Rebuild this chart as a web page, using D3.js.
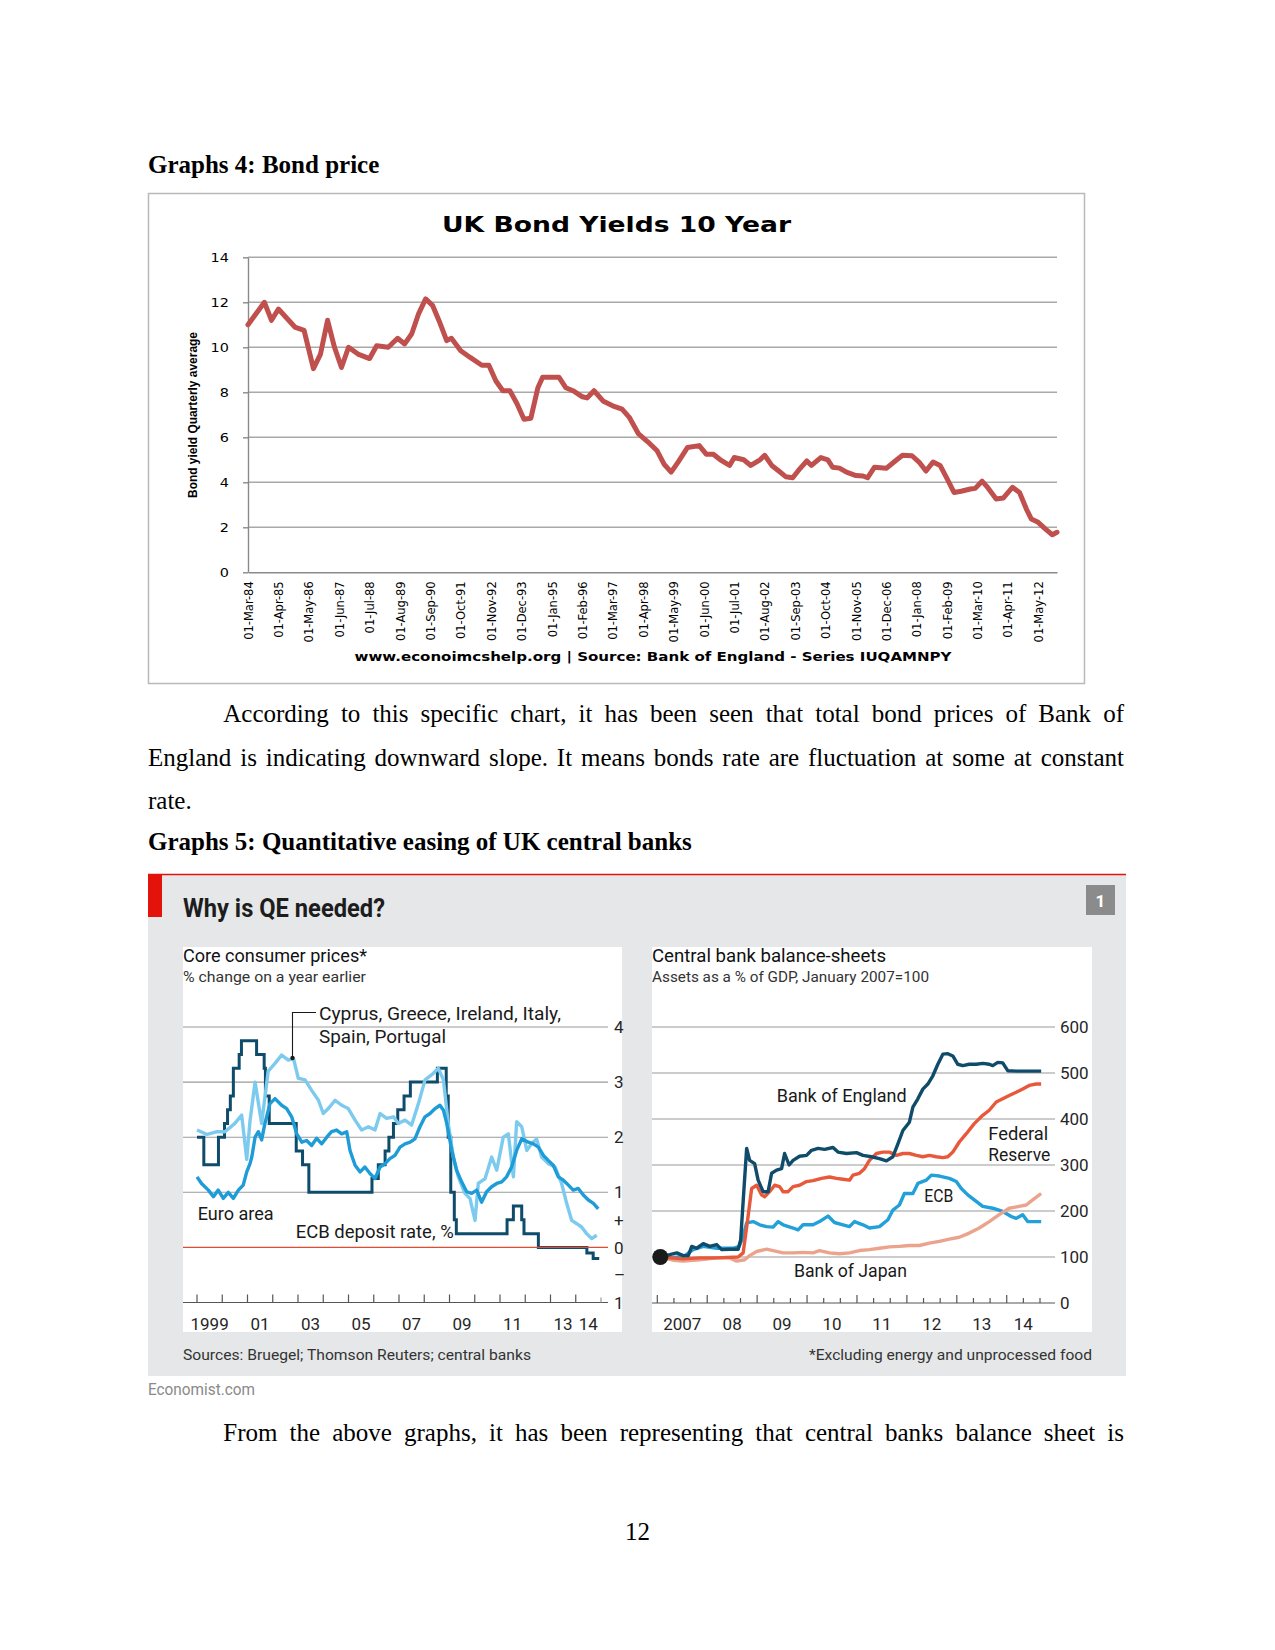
<!DOCTYPE html>
<html><head><meta charset="utf-8">
<script src="https://cdn.jsdelivr.net/npm/d3@7"></script>
<style>html,body{margin:0;padding:0;background:#fff}svg{display:block}</style>
</head><body>
<svg id="page" width="1275" height="1650"></svg>
<script>
// ---------------- DATA ----------------
// Graph 4: UK 10-year bond yields
const bondMonths = ["1984-03","1984-10","1985-01","1985-04","1985-11","1986-03","1986-07","1986-10","1987-01","1987-04","1987-07","1987-10","1988-02","1988-07","1988-10","1989-03","1989-07","1989-10","1990-01","1990-04","1990-07","1990-10","1991-01","1991-04","1991-06","1991-10","1992-02","1992-07","1992-10","1993-01","1993-04","1993-07","1993-10","1994-01","1994-04","1994-07","1994-09","1995-04","1995-07","1995-10","1996-02","1996-04","1996-07","1996-11","1997-03","1997-07","1997-10","1998-02","1998-06","1998-10","1999-01","1999-04","1999-07","1999-11","2000-04","2000-07","2000-10","2001-01","2001-05","2001-07","2001-11","2002-02","2002-06","2002-08","2002-11","2003-02","2003-05","2003-08","2003-11","2004-02","2004-04","2004-08","2004-11","2005-01","2005-04","2005-07","2005-11","2006-02","2006-04","2006-07","2006-12","2007-04","2007-07","2007-11","2008-02","2008-05","2008-08","2008-11","2009-02","2009-05","2009-08","2009-12","2010-02","2010-05","2010-07","2010-11","2011-02","2011-06","2011-09","2011-12","2012-02","2012-05","2012-08","2012-11","2013-01"];
const bondYields = [11.0,12.0,11.2,11.7,10.9,10.75,9.05,9.7,11.2,10.0,9.1,10.0,9.7,9.5,10.07,10.0,10.4,10.15,10.6,11.5,12.15,11.85,11.1,10.3,10.4,9.85,9.55,9.2,9.2,8.5,8.07,8.07,7.5,6.8,6.85,8.2,8.67,8.67,8.2,8.07,7.8,7.75,8.07,7.6,7.4,7.25,6.9,6.15,5.8,5.4,4.8,4.45,4.9,5.55,5.63,5.25,5.25,5.0,4.75,5.1,5.0,4.75,5.0,5.2,4.75,4.5,4.25,4.2,4.6,4.95,4.75,5.1,5.0,4.67,4.63,4.45,4.3,4.28,4.2,4.67,4.62,4.96,5.2,5.18,4.9,4.5,4.9,4.75,4.15,3.55,3.6,3.7,3.73,4.05,3.82,3.26,3.3,3.78,3.55,2.8,2.37,2.22,1.93,1.67,1.78];
const bondTickMonths = ["1984-03","1985-04","1986-05","1987-06","1988-07","1989-08","1990-09","1991-10","1992-11","1993-12","1995-01","1996-02","1997-03","1998-04","1999-05","2000-06","2001-07","2002-08","2003-09","2004-10","2005-11","2006-12","2008-01","2009-02","2010-03","2011-04","2012-05"];
const bondYTicks = [0,2,4,6,8,10,12,14];

// Graph 5 left: core consumer prices (% change on a year earlier) and ECB deposit rate
const euroYears = [1999.0,1999.18,1999.45,1999.65,1999.84,2000.04,2000.24,2000.44,2000.64,2000.83,2000.97,2001.10,2001.17,2001.30,2001.43,2001.56,2001.69,2001.89,2002.09,2002.35,2002.55,2002.75,2002.95,2003.15,2003.34,2003.54,2003.74,2003.94,2004.14,2004.33,2004.53,2004.73,2004.93,2005.06,2005.26,2005.46,2005.65,2005.85,2006.05,2006.25,2006.45,2006.64,2006.84,2007.04,2007.24,2007.44,2007.63,2007.83,2008.03,2008.23,2008.43,2008.62,2008.76,2008.89,2009.09,2009.28,2009.48,2009.68,2009.88,2010.08,2010.27,2010.47,2010.67,2010.87,2011.07,2011.26,2011.46,2011.66,2011.86,2012.12,2012.32,2012.52,2012.72,2012.91,2013.11,2013.31,2013.51,2013.71,2013.90,2014.10,2014.30,2014.50,2014.70,2014.89];
const euroCore = [1.28,1.16,1.04,0.92,1.04,0.89,1.0,0.89,1.04,1.13,1.37,1.52,1.64,2.0,2.1,1.95,2.25,2.61,2.7,2.58,2.52,2.37,2.06,1.91,1.94,1.85,1.98,1.88,2.0,2.1,2.13,2.06,2.1,1.76,1.49,1.37,1.46,1.34,1.25,1.46,1.52,1.61,1.67,1.82,1.88,1.91,1.97,2.19,2.37,2.43,2.52,2.58,2.49,2.25,1.76,1.40,1.19,1.01,0.98,1.04,0.82,1.01,1.10,1.16,1.19,1.28,1.46,1.76,1.97,1.91,1.88,1.82,1.67,1.58,1.49,1.28,1.22,1.13,1.04,1.07,0.95,0.86,0.80,0.70];
const periYears = [1999.0,1999.4,1999.8,2000.11,2000.5,2000.77,2000.97,2001.1,2001.3,2001.56,2001.82,2002.09,2002.35,2002.62,2002.82,2003.01,2003.28,2003.54,2003.81,2004.0,2004.2,2004.47,2004.73,2004.99,2005.26,2005.52,2005.79,2006.05,2006.25,2006.51,2006.78,2006.97,2007.24,2007.5,2007.77,2008.03,2008.29,2008.56,2008.76,2008.95,2009.15,2009.35,2009.61,2009.81,2010.01,2010.14,2010.41,2010.67,2010.87,2011.13,2011.33,2011.53,2011.66,2011.86,2012.06,2012.25,2012.45,2012.65,2012.91,2013.18,2013.44,2013.64,2013.84,2014.04,2014.23,2014.43,2014.63,2014.83];
const periCore = [2.13,2.05,2.1,2.1,2.25,2.4,1.6,2.3,3.0,2.25,3.2,3.34,3.49,3.4,3.43,3.07,3.04,2.85,2.67,2.43,2.52,2.67,2.58,2.52,2.31,2.13,2.19,2.13,2.43,2.34,2.37,2.25,2.31,2.22,2.61,3.04,3.13,3.25,3.04,2.25,1.64,1.28,0.98,0.89,0.49,1.16,1.25,1.64,1.40,2.0,2.06,1.28,2.28,2.19,1.76,1.88,1.97,1.64,1.52,1.46,1.16,0.80,0.49,0.43,0.37,0.25,0.16,0.22];
const ecbRateYears = [1999.0,1999.27,1999.85,2000.09,2000.21,2000.32,2000.44,2000.67,2000.76,2001.36,2001.66,2001.71,2001.86,2002.93,2003.18,2003.43,2005.93,2006.18,2006.45,2006.6,2006.78,2006.95,2007.2,2007.45,2008.52,2008.87,2008.95,2009.05,2009.19,2009.27,2011.28,2011.53,2011.86,2011.95,2012.52,2014.44,2014.69,2014.93];
const ecbRate = [2.0,1.5,2.0,2.25,2.5,2.75,3.25,3.5,3.75,3.5,3.25,2.75,2.25,1.75,1.5,1.0,1.25,1.5,1.75,2.0,2.25,2.5,2.75,3.0,3.25,2.75,2.0,1.0,0.5,0.25,0.5,0.75,0.5,0.25,0.0,-0.1,-0.2,-0.2];
const leftTickValues = [4,3,2,1,0.5,0,-0.5,-1];
const leftTickLabels = ["4","3","2","1","+","0","–","1"];
const leftYearTicks = [1999,2000,2001,2002,2003,2004,2005,2006,2007,2008,2009,2010,2011,2012,2013,2014,2015];
const leftYearLabels = [[1999,"1999"],[2001,"01"],[2003,"03"],[2005,"05"],[2007,"07"],[2009,"09"],[2011,"11"],[2013,"13"],[2014,"14"]];

// Graph 5 right: central bank balance-sheets (assets as % of GDP, Jan 2007=100)
const boeYears = [2007.06,2007.25,2007.39,2007.52,2007.62,2007.69,2007.79,2007.92,2008.05,2008.19,2008.29,2008.45,2008.62,2008.67,2008.73,2008.79,2008.85,2008.95,2009.02,2009.12,2009.22,2009.29,2009.39,2009.49,2009.55,2009.64,2009.72,2009.85,2009.99,2010.09,2010.22,2010.35,2010.52,2010.62,2010.79,2010.99,2011.12,2011.29,2011.45,2011.59,2011.72,2011.82,2011.92,2012.05,2012.12,2012.22,2012.32,2012.42,2012.52,2012.62,2012.72,2012.82,2012.92,2013.02,2013.12,2013.25,2013.39,2013.52,2013.65,2013.72,2013.82,2013.92,2014.02,2014.19,2014.45,2014.69];
const boeAssets = [100,105,109,103,103,123,119,129,123,127,116,117,117,137,238,336,310,303,267,242,242,282,289,292,325,300,310,319,321,332,336,334,338,328,325,327,321,318,314,309,318,346,375,393,426,444,465,476,494,519,541,542,537,519,516,519,519,521,519,516,523,522,505,504,504,504];
const fedYears = [2007.06,2007.52,2007.85,2008.19,2008.62,2008.72,2008.81,2008.89,2008.99,2009.09,2009.15,2009.25,2009.35,2009.45,2009.52,2009.62,2009.72,2009.85,2009.99,2010.12,2010.29,2010.45,2010.59,2010.72,2010.85,2010.92,2011.05,2011.15,2011.25,2011.39,2011.52,2011.65,2011.79,2011.92,2012.05,2012.19,2012.32,2012.45,2012.59,2012.72,2012.82,2012.92,2013.05,2013.19,2013.35,2013.52,2013.65,2013.79,2013.92,2014.05,2014.19,2014.32,2014.45,2014.59,2014.69];
const fedAssets = [100,96,98,98,100,109,181,249,256,235,231,242,256,253,242,242,253,256,264,266,271,274,271,269,267,278,282,292,310,325,328,328,321,325,325,321,318,321,318,316,318,328,350,368,390,408,419,437,444,451,458,465,473,476,476];
const ecbYears = [2007.06,2007.25,2007.52,2007.72,2007.92,2008.19,2008.52,2008.64,2008.72,2008.79,2008.92,2009.05,2009.19,2009.32,2009.42,2009.52,2009.72,2009.82,2009.92,2010.12,2010.25,2010.42,2010.55,2010.72,2010.85,2010.95,2011.12,2011.25,2011.45,2011.62,2011.72,2011.85,2011.95,2012.12,2012.22,2012.39,2012.49,2012.65,2012.85,2012.99,2013.09,2013.22,2013.35,2013.52,2013.72,2013.92,2014.09,2014.19,2014.32,2014.42,2014.52,2014.69];
const ecbAssets = [100,98,101,116,123,119,119,123,145,174,177,170,166,165,177,170,163,159,170,170,177,189,175,170,166,177,170,163,166,181,202,213,238,238,260,267,278,276,271,264,249,235,224,210,206,199,188,184,192,177,177,177];
const bojYears = [2007.06,2007.32,2007.52,2007.85,2008.19,2008.45,2008.59,2008.75,2008.85,2008.99,2009.19,2009.32,2009.52,2009.72,2009.92,2010.12,2010.25,2010.45,2010.65,2010.85,2011.05,2011.25,2011.45,2011.65,2011.85,2012.05,2012.25,2012.45,2012.65,2012.85,2013.05,2013.25,2013.45,2013.65,2013.85,2014.05,2014.25,2014.39,2014.52,2014.69];
const bojAssets = [100,93,91,94,98,98,91,94,103,112,117,114,109,109,110,109,114,109,107,109,114,116,119,122,123,125,125,130,134,139,143,152,163,177,192,206,210,213,224,238];
const rightTickValues = [600,500,400,300,200,100,0];
const rightYearLabels = [[2007,"2007"],[2008,"08"],[2009,"09"],[2010,"10"],[2011,"11"],[2012,"12"],[2013,"13"],[2014,"14"]];

// ---------------- DRAWING ----------------
const svg = d3.select('#page');
svg.append('rect').attr('width',1275).attr('height',1650).attr('fill','#fff');

const SERIF = '"Liberation Serif","Times New Roman",serif';
const ECO = 'Roboto, "Open Sans", sans-serif';
const XLS = '"DejaVu Sans", Verdana, sans-serif';

function addText(parent, x, y, s, o = {}) {
  const t = parent.append('text').attr('x', x).attr('y', y).text(s)
    .attr('font-family', o.ff || ECO)
    .attr('font-size', o.fs || 17)
    .attr('fill', o.fill || '#1a1a1a');
  if (o.fw) t.attr('font-weight', o.fw);
  if (o.anchor) t.attr('text-anchor', o.anchor);
  if (o.w) t.attr('textLength', o.w).attr('lengthAdjust', 'spacingAndGlyphs');
  return t;
}

function justifyLine(str, x0, x1, y, justify) {
  const g = svg.append('g').attr('font-family', SERIF).attr('font-size', 25).attr('fill', '#000');
  const words = str.split(' ');
  const nodes = words.map(w => g.append('text').attr('y', y).text(w));
  const widths = nodes.map(n => n.node().getComputedTextLength());
  const total = d3.sum(widths);
  const gap = (justify && words.length > 1) ? (x1 - x0 - total) / (words.length - 1) : 6.25;
  let x = x0;
  nodes.forEach((n, i) => { n.attr('x', x); x += widths[i] + gap; });
}

// ----- document text -----
addText(svg, 148, 173, 'Graphs 4: Bond price', {ff: SERIF, fs: 25, fw: 'bold', fill: '#000'});
justifyLine('According to this specific chart, it has been seen that total bond prices of Bank of', 223.3, 1124, 722, true);
justifyLine('England is indicating downward slope. It means bonds rate are fluctuation at some at constant', 148, 1124, 765.5, true);
justifyLine('rate.', 148, 1124, 808.5, false);
addText(svg, 148, 850, 'Graphs 5: Quantitative easing of UK central banks', {ff: SERIF, fs: 25, fw: 'bold', fill: '#000'});
justifyLine('From the above graphs, it has been representing that central banks balance sheet is', 223.3, 1124, 1441, true);
addText(svg, 637.5, 1540, '12', {ff: SERIF, fs: 25, fill: '#000', anchor: 'middle'});

// ----- Graph 4: UK bond yields -----
const g4 = svg.append('g');
g4.append('rect').attr('x', 148.5).attr('y', 193.5).attr('width', 936).attr('height', 490)
  .attr('fill', '#fff').attr('stroke', '#b9b9b9').attr('stroke-width', 1.5);
addText(g4, 616.5, 232, 'UK Bond Yields 10 Year', {ff: XLS, fs: 21, fw: 'bold', fill: '#000', anchor: 'middle', w: 349});

const parseM = d3.timeParse('%Y-%m');
const bx = d3.scaleTime().domain([parseM('1984-03'), parseM('2013-01')]).range([248, 1057]);
const by = d3.scaleLinear().domain([0, 14]).range([572.3, 257.3]);

g4.append('g').selectAll('line').data(bondYTicks.filter(v => v > 0)).join('line')
  .attr('x1', 248).attr('x2', 1057).attr('y1', d => by(d)).attr('y2', d => by(d))
  .attr('stroke', '#a9a9a9').attr('stroke-width', 1.6);

const yAx = g4.append('g').attr('transform', 'translate(248,0)')
  .call(d3.axisLeft(by).tickValues(bondYTicks).tickSize(5).tickPadding(14).tickSizeOuter(0));
yAx.select('.domain').attr('stroke', '#8a8a8a').attr('stroke-width', 1.4);
yAx.selectAll('.tick line').attr('stroke', '#8a8a8a').attr('stroke-width', 1.4);
yAx.selectAll('text').attr('font-family', XLS).attr('font-size', 12).attr('fill', '#000')
  .attr('transform', 'scale(1.2,1)').attr('x', -16);

const xAx = g4.append('g').attr('transform', 'translate(0,572.3)')
  .call(d3.axisBottom(bx).tickValues(bondTickMonths.map(parseM)).tickFormat(d3.timeFormat('%d-%b-%y')).tickSize(0).tickSizeOuter(0));
xAx.select('.domain').attr('stroke', '#8a8a8a').attr('stroke-width', 1.6);
xAx.selectAll('text').attr('font-family', XLS).attr('font-size', 11.5).attr('fill', '#000')
  .attr('y', 0).attr('x', -9).attr('dy', '0.36em').attr('transform', 'rotate(-90)')
  .style('text-anchor', 'end');

addText(g4, 0, 0, 'Bond yield Quarterly average', {ff: '"Liberation Sans", Arial, sans-serif', fs: 13, fw: 'bold', fill: '#000', anchor: 'middle', w: 166})
  .attr('transform', 'translate(197,415) rotate(-90)');

const bondLine = d3.line().x((d) => bx(parseM(d[0]))).y(d => by(d[1]));
g4.append('path').datum(d3.zip(bondMonths, bondYields)).attr('d', bondLine)
  .attr('fill', 'none').attr('stroke', '#c0504d').attr('stroke-width', 5)
  .attr('stroke-linejoin', 'round').attr('stroke-linecap', 'round');

addText(g4, 653, 661, 'www.econoimcshelp.org | Source: Bank of England - Series IUQAMNPY', {ff: XLS, fs: 12, fw: 'bold', fill: '#000', anchor: 'middle', w: 597});

// ----- Graph 5: The Economist -----
const g5 = svg.append('g');
g5.append('rect').attr('x', 148).attr('y', 874).attr('width', 978).attr('height', 502).attr('fill', '#e5e7e8');
g5.append('line').attr('x1', 148).attr('x2', 1126).attr('y1', 874.5).attr('y2', 874.5).attr('stroke', '#e3120b').attr('stroke-width', 1.6);
g5.append('rect').attr('x', 148).attr('y', 874).attr('width', 14).attr('height', 43).attr('fill', '#e3120b');
addText(g5, 183, 917, 'Why is QE needed?', {fs: 25, fw: 'bold', fill: '#1d1d1d', w: 202});
g5.append('rect').attr('x', 1086).attr('y', 885).attr('width', 29).attr('height', 30).attr('fill', '#8b8b8b');
addText(g5, 1100.5, 907, '1', {fs: 17, fw: 'bold', fill: '#fff', anchor: 'middle'});

g5.append('rect').attr('x', 183).attr('y', 947).attr('width', 439).attr('height', 385).attr('fill', '#fff');
g5.append('rect').attr('x', 652).attr('y', 947).attr('width', 440).attr('height', 385).attr('fill', '#fff');

addText(g5, 183, 962, 'Core consumer prices*', {fs: 17.5, fill: '#111', w: 184});
addText(g5, 183, 982, '% change on a year earlier', {fs: 14.5, fill: '#333', w: 183});
addText(g5, 652, 962, 'Central bank balance-sheets', {fs: 17.5, fill: '#111', w: 234});
addText(g5, 652, 982, 'Assets as a % of GDP, January 2007=100', {fs: 14.5, fill: '#333', w: 277});
addText(g5, 183, 1360, 'Sources: Bruegel; Thomson Reuters; central banks', {fs: 15, fill: '#333', w: 348});
addText(g5, 1092, 1360, '*Excluding energy and unprocessed food', {fs: 15, fill: '#333', anchor: 'end', w: 283});
addText(g5, 148, 1395, 'Economist.com', {fs: 16, fill: '#8a8a8a', w: 107});

// left panel
const lx = d3.scaleLinear().domain([1999, 2015]).range([197, 601]);
const ly = d3.scaleLinear().domain([-1, 4]).range([1302.5, 1027]);
const L = g5.append('g');
L.selectAll('line.grid').data([1, 2, 3, 4]).join('line').attr('class', 'grid')
  .attr('x1', 183).attr('x2', 608).attr('y1', d => ly(d)).attr('y2', d => ly(d))
  .attr('stroke', '#9a9a9a').attr('stroke-width', 1.1);
L.append('line').attr('x1', 183).attr('x2', 608).attr('y1', ly(-1)).attr('y2', ly(-1)).attr('stroke', '#555').attr('stroke-width', 1.2);
L.selectAll('line.tk').data(leftYearTicks).join('line').attr('class', 'tk')
  .attr('x1', d => lx(d)).attr('x2', d => lx(d)).attr('y1', ly(-1)).attr('y2', d => ly(-1) - (d === 2015 ? 5 : 8))
  .attr('stroke', d => d === 2015 ? '#999' : '#555').attr('stroke-width', 1.2);
L.selectAll('text.tl').data(leftTickValues).join('text').attr('class', 'tl')
  .attr('x', 614).attr('y', d => ly(d)).attr('dy', '0.36em').text((d, i) => leftTickLabels[i])
  .attr('font-family', ECO).attr('font-size', 17).attr('fill', '#262626');
L.selectAll('text.yl').data(leftYearLabels).join('text').attr('class', 'yl')
  .attr('x', d => lx(d[0] + 0.5)).attr('y', 1330).attr('text-anchor', 'middle').text(d => d[1])
  .attr('font-family', ECO).attr('font-size', 17).attr('fill', '#262626');

const lineStep = d3.line().x(d => lx(d[0])).y(d => ly(d[1])).curve(d3.curveStepAfter);
L.append('path').datum(d3.zip(ecbRateYears, ecbRate)).attr('d', lineStep)
  .attr('fill', 'none').attr('stroke', '#0f4c6b').attr('stroke-width', 3);
const lineL2 = d3.line().x(d => lx(d[0])).y(d => ly(d[1]));
L.append('path').datum(d3.zip(periYears, periCore)).attr('d', lineL2)
  .attr('fill', 'none').attr('stroke', '#7ccbef').attr('stroke-width', 3.4).attr('stroke-linejoin', 'round');
L.append('path').datum(d3.zip(euroYears, euroCore)).attr('d', lineL2)
  .attr('fill', 'none').attr('stroke', '#1d9cd8').attr('stroke-width', 3.4).attr('stroke-linejoin', 'round');
L.append('line').attr('x1', 183).attr('x2', 608).attr('y1', ly(0)).attr('y2', ly(0)).attr('stroke', '#e24a33').attr('stroke-width', 1.2);

// annotations left
L.append('path').attr('d', `M292.5,1058V1012.5H316`).attr('fill', 'none').attr('stroke', '#1a1a1a').attr('stroke-width', 1.1);
L.append('circle').attr('cx', 292.5).attr('cy', 1058).attr('r', 2.2).attr('fill', '#1a1a1a');
addText(L, 319, 1020, 'Cyprus, Greece, Ireland, Italy,', {fs: 18, w: 242});
addText(L, 319, 1043, 'Spain, Portugal', {fs: 18, w: 127});
addText(L, 197.7, 1220, 'Euro area', {fs: 18, w: 76});
addText(L, 295.7, 1238, 'ECB deposit rate, %', {fs: 18, w: 158});

// right panel
const rx = d3.scaleLinear().domain([2007, 2014 + 2 / 3]).range([657.3, 1040]);
const ry = d3.scaleLinear().domain([0, 600]).range([1303, 1027]);
const R = g5.append('g');
R.selectAll('line.grid').data([100, 200, 300, 400, 500, 600]).join('line').attr('class', 'grid')
  .attr('x1', 652).attr('x2', 1055).attr('y1', d => ry(d)).attr('y2', d => ry(d))
  .attr('stroke', '#9a9a9a').attr('stroke-width', 1.1);
R.append('line').attr('x1', 652).attr('x2', 1055).attr('y1', ry(0)).attr('y2', ry(0)).attr('stroke', '#555').attr('stroke-width', 1.2);
const rTicks = d3.range(0, 24).map(i => 2007 + i / 3);
R.selectAll('line.tk').data(rTicks).join('line').attr('class', 'tk')
  .attr('x1', d => rx(d)).attr('x2', d => rx(d)).attr('y1', ry(0))
  .attr('y2', (d, i) => ry(0) - (i % 3 === 0 ? 8 : 5))
  .attr('stroke', '#555').attr('stroke-width', 1.2);
R.selectAll('text.tl').data(rightTickValues).join('text').attr('class', 'tl')
  .attr('x', 1060).attr('y', d => ry(d)).attr('dy', '0.36em').text(d => d)
  .attr('font-family', ECO).attr('font-size', 17).attr('fill', '#262626');
const rEnd = 2014 + 2 / 3;
R.selectAll('text.yl').data(rightYearLabels).join('text').attr('class', 'yl')
  .attr('x', d => rx((d[0] + Math.min(d[0] + 1, rEnd)) / 2)).attr('y', 1330).attr('text-anchor', 'middle').text(d => d[1])
  .attr('font-family', ECO).attr('font-size', 17).attr('fill', '#262626');

const lineR = d3.line().x(d => rx(d[0])).y(d => ry(d[1]));
const rSeries = [
  [ecbYears, ecbAssets, '#22a0d9'],
  [bojYears, bojAssets, '#eba38c'],
  [fedYears, fedAssets, '#e8583b'],
  [boeYears, boeAssets, '#0f4c6b']
];
rSeries.forEach(s => {
  R.append('path').datum(d3.zip(s[0], s[1])).attr('d', lineR)
    .attr('fill', 'none').attr('stroke', s[2]).attr('stroke-width', 3.4).attr('stroke-linejoin', 'round');
});
R.append('circle').attr('cx', rx(boeYears[0])).attr('cy', ry(boeAssets[0])).attr('r', 8).attr('fill', '#1a1a1a');

addText(R, 776.7, 1101.5, 'Bank of England', {fs: 18, w: 130});
addText(R, 988.3, 1140, 'Federal', {fs: 18, w: 60});
addText(R, 988.3, 1160.5, 'Reserve', {fs: 18, w: 62});
addText(R, 924.3, 1202, 'ECB', {fs: 18, w: 29});
addText(R, 794, 1276.5, 'Bank of Japan', {fs: 18, w: 113});
</script>
</body></html>
